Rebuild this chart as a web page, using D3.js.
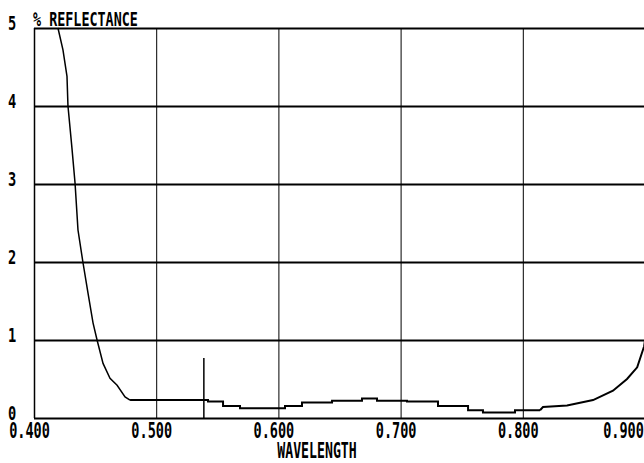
<!DOCTYPE html>
<html>
<head>
<meta charset="utf-8">
<script src="https://cdn.jsdelivr.net/npm/d3@7"></script>
<style>
  body { margin: 0; background: #fff; }
  svg { display: block; }
  .lbl { font-family: 'DejaVu Sans Mono', monospace; font-weight: bold; fill: #000; }
</style>
</head>
<body>
<svg width="644" height="463"></svg>
<script>
// tick values
var xTicks = [0.4, 0.5, 0.6, 0.7, 0.8, 0.9];
var yTicks = [0, 1, 2, 3, 4, 5];

// steep fall at the blue end
var fallW = [0.4196, 0.4237, 0.427, 0.4278, 0.431, 0.4336, 0.436, 0.440, 0.4442, 0.4483, 0.4516, 0.4565, 0.4622, 0.468, 0.4745, 0.4786];
var fallV = [5.0, 4.72, 4.38, 4.0, 3.47, 3.01, 2.41, 2.0, 1.60, 1.22, 1.0, 0.70, 0.51, 0.42, 0.27, 0.23];

// stepped middle part (level starts at each wavelength)
var stepW = [0.4786, 0.5424, 0.5547, 0.5686, 0.6054, 0.6193, 0.6439, 0.6684, 0.6807, 0.7052, 0.7306, 0.7552, 0.7674, 0.7936, 0.8141];
var stepV = [0.23, 0.21, 0.155, 0.125, 0.155, 0.20, 0.22, 0.25, 0.22, 0.21, 0.155, 0.10, 0.07, 0.10, 0.10];

// rise at the red end
var riseW = [0.8141, 0.8165, 0.8362, 0.8575, 0.8738, 0.8853, 0.8936, 0.8993, 0.9];
var riseV = [0.10, 0.14, 0.16, 0.23, 0.35, 0.50, 0.65, 0.92, 1.0];

// marker line
var markW = 0.539;
var markV = 0.77;

var svg = d3.select('svg');
var plotL = 34, plotR = 645, plotT = 28, plotB = 418;

var x = d3.scaleLinear().domain([0.4, 0.9]).range([plotL, plotR]);
var y = d3.scaleLinear().domain([0, 5]).range([plotB, plotT]);

// vertical grid + x labels
var xAxis = svg.append('g')
  .attr('transform', 'translate(0,' + plotB + ')')
  .call(d3.axisBottom(x).tickValues(xTicks).tickSize(-(plotB - plotT)).tickFormat(d3.format('.3f')));
xAxis.select('.domain').remove();
xAxis.selectAll('line').attr('stroke', '#000').attr('stroke-width', function(d) { return d === 0.4 ? 1.5 : 1; });
xAxis.selectAll('text')
  .attr('class', 'lbl')
  .attr('font-size', 20.5)
  .attr('y', 0).attr('x', 0).attr('dy', 0)
  .attr('text-anchor', 'middle')
  .attr('transform', function(d, i) {
    return (i === xTicks.length - 1 ? 'translate(-22,20)' : 'translate(-5,20)') + ' scale(0.66,1)';
  });

// horizontal grid + y labels
var yAxis = svg.append('g')
  .attr('transform', 'translate(' + plotL + ',0)')
  .call(d3.axisLeft(y).tickValues(yTicks).tickSize(-(644 - plotL)).tickFormat(d3.format('d')));
yAxis.select('.domain').remove();
yAxis.selectAll('line').attr('stroke', '#000').attr('stroke-width', 2);
yAxis.selectAll('text')
  .attr('class', 'lbl')
  .attr('font-size', 19)
  .attr('x', 0).attr('dy', 0)
  .attr('text-anchor', 'start')
  .attr('transform', 'translate(-26,1) scale(0.72,1)');

// titles
svg.append('text').attr('class', 'lbl')
  .attr('font-size', 20)
  .attr('transform', 'translate(33,26) scale(0.67,1)')
  .text('% REFLECTANCE');

svg.append('text').attr('class', 'lbl')
  .attr('font-size', 22)
  .attr('text-anchor', 'middle')
  .attr('transform', 'translate(317,458) scale(0.6,1)')
  .text('WAVELENGTH');

// curve
var lin = d3.line().x(function(d) { return x(d[0]); }).y(function(d) { return y(d[1]); });
var step = d3.line().curve(d3.curveStepAfter).x(function(d) { return x(d[0]); }).y(function(d) { return y(d[1]); });

svg.append('path')
  .datum(d3.zip(fallW, fallV))
  .attr('d', lin)
  .attr('fill', 'none').attr('stroke', '#000').attr('stroke-width', 1.5);

svg.append('path')
  .datum(d3.zip(stepW, stepV))
  .attr('d', step)
  .attr('fill', 'none').attr('stroke', '#000').attr('stroke-width', 2);

svg.append('path')
  .datum(d3.zip(riseW, riseV))
  .attr('d', lin)
  .attr('fill', 'none').attr('stroke', '#000').attr('stroke-width', 2);

svg.append('line')
  .attr('x1', x(markW)).attr('x2', x(markW))
  .attr('y1', y(0)).attr('y2', y(markV))
  .attr('stroke', '#000').attr('stroke-width', 1.5);
</script>
</body>
</html>
